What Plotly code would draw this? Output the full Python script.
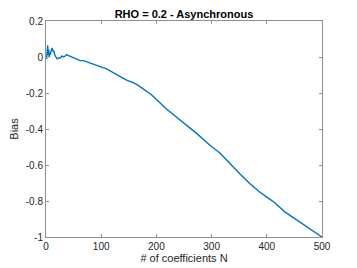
import plotly.graph_objects as go

n_coeffs = [1, 2, 3, 4, 5, 6, 7, 8, 9, 10, 11, 12, 13, 14, 15, 16, 18, 20, 23, 26, 29, 32, 34, 36, 38, 41, 44, 48, 53, 58, 62, 68, 73, 77, 82, 86, 95, 103, 109, 118, 128, 137, 146, 158, 167, 176, 191, 205, 215, 230, 248, 263, 275, 287, 297, 315, 333, 351, 369, 387, 404, 414, 432, 451, 469, 487, 500]
bias = [-0.01, 0.03, 0.065, 0.01, 0.04, 0.0, 0.02, 0.015, 0.03, 0.045, 0.05, 0.04, 0.03, 0.037, 0.02, 0.01, 0.0, -0.01, -0.005, -0.006, 0.006, 0.0, 0.004, 0.008, 0.013, 0.008, 0.004, 0.0, -0.01, -0.015, -0.02, -0.02, -0.026, -0.031, -0.036, -0.042, -0.05, -0.059, -0.065, -0.082, -0.098, -0.113, -0.129, -0.142, -0.158, -0.176, -0.21, -0.25, -0.281, -0.318, -0.361, -0.398, -0.43, -0.463, -0.49, -0.533, -0.592, -0.648, -0.703, -0.75, -0.787, -0.808, -0.859, -0.898, -0.935, -0.972, -1.0]

x_ticks = [0, 100, 200, 300, 400, 500]
y_ticks = [0.2, 0, -0.2, -0.4, -0.6, -0.8, -1]
y_tick_labels = ["0.2", "0", "-0.2", "-0.4", "-0.6", "-0.8", "-1"]

FONT = "Liberation Sans, Arial, Helvetica, sans-serif"
AX = "#262626"

fig = go.Figure()
fig.add_trace(go.Scatter(x=n_coeffs, y=bias, mode="lines",
                         line=dict(color="#0072BD", width=1.4), showlegend=False))

axis_common = dict(showgrid=False, zeroline=False, showline=True, linecolor="#8f8f8f",
                   linewidth=1, mirror="ticks", ticks="inside", ticklen=3,
                   tickcolor="#8f8f8f", automargin=False,
                   tickfont=dict(family=FONT, size=10, color=AX))

# page body has an 8px margin; figure is sized to fill the rest of the window
fig.update_layout(
    width=349, height=260,
    margin=dict(l=38, r=35, t=13, b=31),
    paper_bgcolor="white", plot_bgcolor="white",
    title=dict(text="<b>RHO = 0.2 - Asynchronous</b>", x=0.5, xref="paper",
               y=0.99, yref="container", yanchor="top", pad=dict(t=0, b=0),
               font=dict(family=FONT, size=11, color="black")),
    xaxis=dict(range=[0, 500], tickvals=x_ticks,
               title=dict(text="# of coefficients N", font=dict(family=FONT, size=11, color=AX), standoff=1),
               **axis_common),
    yaxis=dict(range=[-1, 0.2], tickvals=y_ticks, ticktext=y_tick_labels,
               title=dict(text="Bias", font=dict(family=FONT, size=11, color=AX), standoff=6),
               **axis_common),
)

fig.write_html("out.html")
